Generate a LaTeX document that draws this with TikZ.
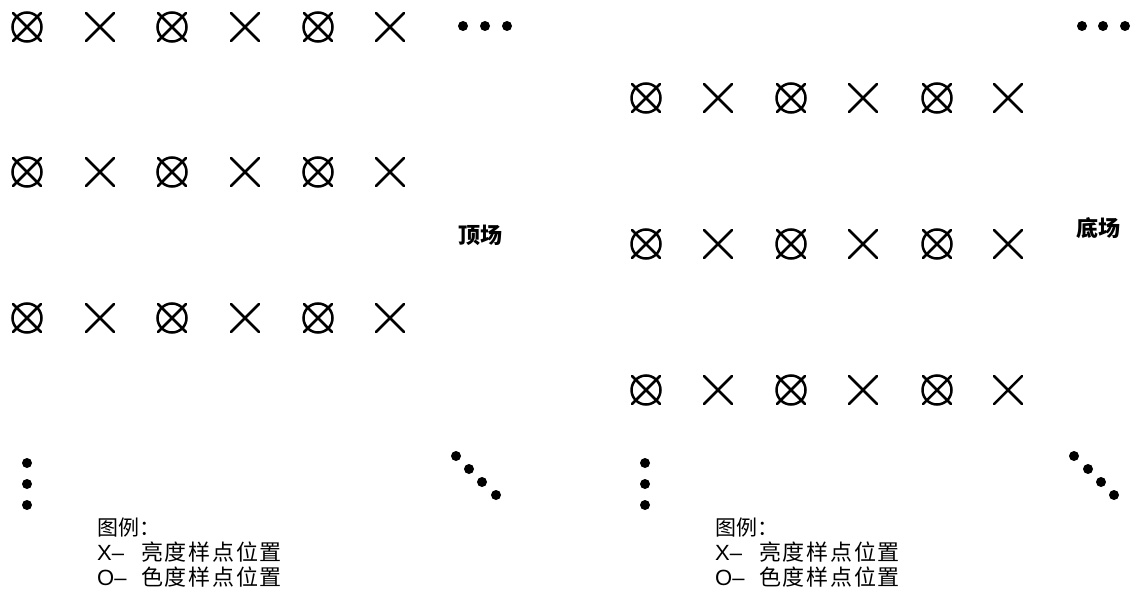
\documentclass[tikz,border=0pt]{standalone}
\usepackage{fontspec}
\setmainfont{Liberation Sans}
\newfontfamily\cjk{Noto Sans CJK SC}
\newfontfamily\cjkwide[LetterSpace=8]{Noto Sans CJK SC}
\begin{document}
\begin{tikzpicture}[x=1pt,y=-1pt,
  sym/.style={line width=2.5pt, line cap=round},
  dotstyle/.style={fill=black},
  legend/.style={anchor=base west, inner sep=0pt, font=\fontsize{22}{26}\selectfont},
  fieldlabel/.style={inner sep=0pt, font=\cjk\bfseries\fontsize{22}{26}\selectfont}]
\useasboundingbox (0,0) rectangle (1137,602);
% symbol coordinates
\foreach \row/\y in {1/27,2/172,3/318}{
  \foreach \col/\x in {1/27,2/100,3/172,4/245,5/318,6/390}{
    \coordinate (L\row\col) at (\x,\y);
  }
}
\foreach \row/\y in {1/98,2/244,3/390}{
  \foreach \col/\x in {1/646,2/718,3/791,4/863,5/937,6/1008}{
    \coordinate (R\row\col) at (\x,\y);
  }
}
% crosses (luma) everywhere, circles (chroma) on odd columns
\foreach \s in {L,R}{
  \foreach \row in {1,2,3}{
    \foreach \col in {1,...,6}{
      \draw[sym] ([shift={(-14,-14)}]\s\row\col) -- ([shift={(14,14)}]\s\row\col)
                 ([shift={(-14,14)}]\s\row\col) -- ([shift={(14,-14)}]\s\row\col);
    }
    \foreach \col in {1,3,5}{
      \draw[sym] (\s\row\col) circle[radius=14.5];
    }
  }
}
% continuation dots
\foreach \x in {463,485,507} \fill[dotstyle] (\x,26) circle[radius=5];
\foreach \x in {1082,1103,1125} \fill[dotstyle] (\x,26) circle[radius=5];
\foreach \y in {463,484,505} \fill[dotstyle] (27,\y) circle[radius=5];
\foreach \y in {463,484,505} \fill[dotstyle] (645,\y) circle[radius=5];
\foreach \p in {(456,456),(469,469),(482,482),(496,495)} \fill[dotstyle] \p circle[radius=5];
\foreach \p in {(1074,456),(1088,469),(1101,482),(1114,495)} \fill[dotstyle] \p circle[radius=5];
% field labels
\node[fieldlabel] (top) at (480,235) {顶场};
\node[fieldlabel] (bottom) at (1098,228) {底场};
% legends
\foreach \n/\x in {l/97,r/715}{
  \node[legend] (\n g1) at (\x,535) {{\cjk\fontsize{21}{24}\selectfont 图例：}};
  \node[legend] (\n g2) at (\x,560) {\makebox[44pt][l]{X–}{\cjkwide 亮度样点位置}};
  \node[legend] (\n g3) at (\x,585) {\makebox[44pt][l]{O–}{\cjkwide 色度样点位置}};
}
\end{tikzpicture}
\end{document}
